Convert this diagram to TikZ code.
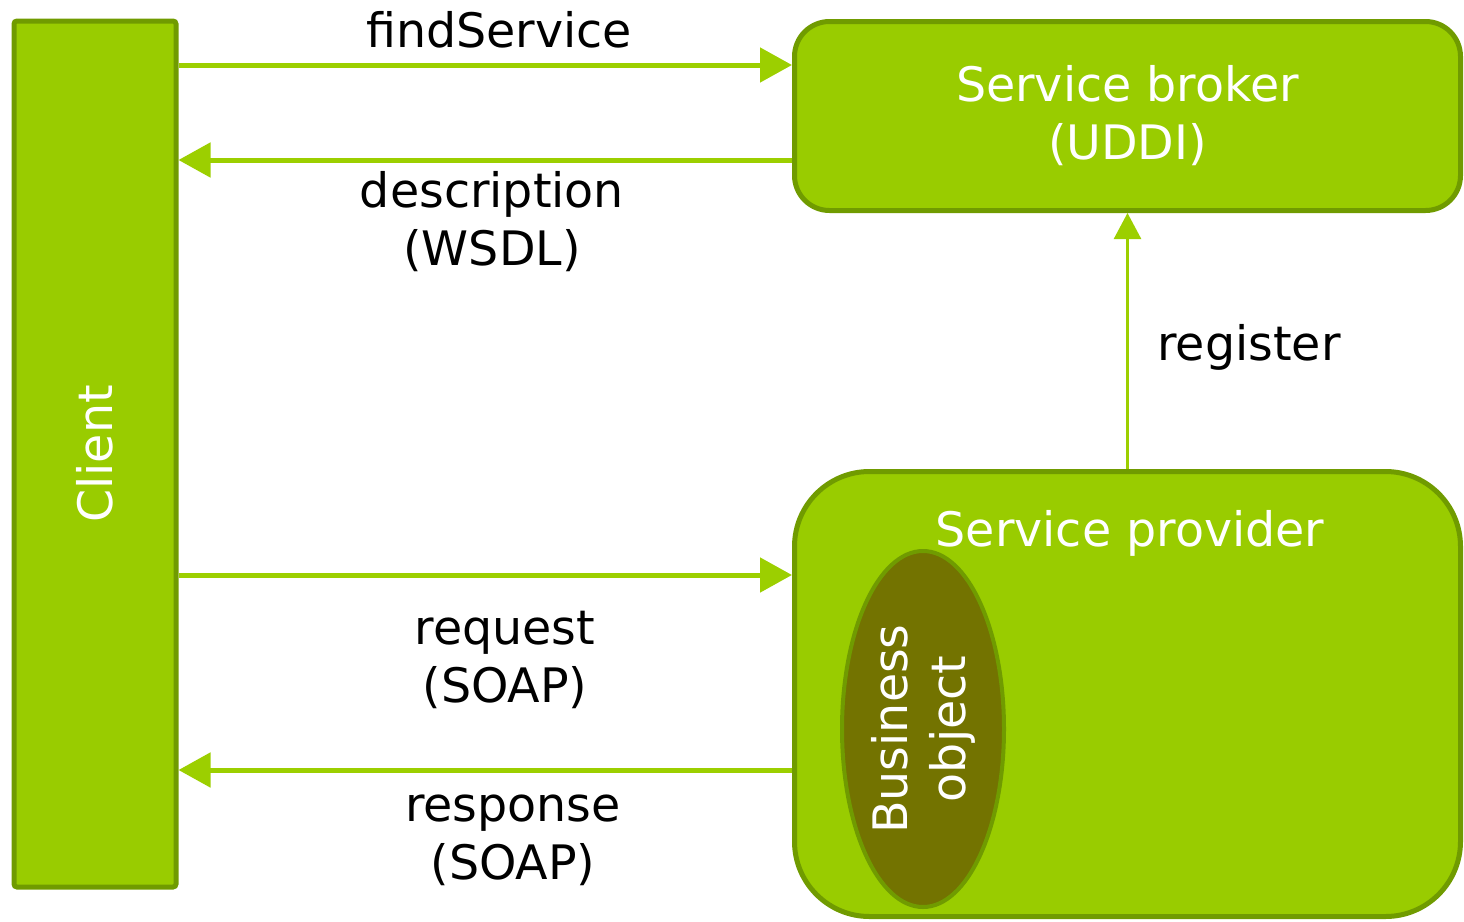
\documentclass[tikz,border=0pt]{standalone}
\usepackage{fontspec}
\setmainfont{DejaVu Sans}
\usetikzlibrary{arrows.meta,shapes.geometric}
\definecolor{leaf}{HTML}{99CC00}
\definecolor{leafdark}{HTML}{709B00}
\definecolor{olive}{HTML}{737300}
\definecolor{arrowgreen}{HTML}{9CCF00}
\tikzset{
  box/.style={draw=leafdark, fill=leaf, line width=5pt, text=white, align=center, inner sep=0pt},
  label/.style={text=black, align=center, inner sep=0pt},
  flow/.style={draw=arrowgreen, line width=5pt, -{Triangle[length=32pt,width=34pt]}},
  thinflow/.style={draw=arrowgreen, line width=2.5pt, -{Triangle[length=26pt,width=27pt]}},
}
\begin{document}
\begin{tikzpicture}[x=1pt,y=-1pt,font=\fontsize{47.5}{58}\selectfont]
\useasboundingbox (0,0) rectangle (1464,921);

% participants (the client bar is rotated, so its right side is client.south)
\node[box, rotate=90, rounded corners=3pt, minimum width=866pt, minimum height=162pt]
  (client) at (95,454) {Client};
\node[box, rounded corners=35pt, minimum width=666pt, minimum height=189pt]
  (broker) at (1127.5,116) {Service broker\\(UDDI)};
\node[box, rounded corners=75pt, minimum width=666pt, minimum height=445pt]
  (provider) at (1127.5,694) {};
\node[text=white, inner sep=0pt] (ptitle) at (1130,533) {Service provider};
\node[draw=leafdark, fill=olive, line width=4pt, ellipse, rotate=90, inner sep=0pt,
  text=white, align=center, minimum width=356pt, minimum height=162pt]
  (bo) at (923,729) {Business\\object};

% attachment points of the messages on the service side
\coordinate (bFind) at ([yshift=51pt]broker.west);
\coordinate (bDesc) at ([yshift=-44pt]broker.west);
\coordinate (pReq)  at ([yshift=119pt]provider.west);
\coordinate (pResp) at ([yshift=-76pt]provider.west);

% messages
\draw[flow] (client.south |- bFind) -- (bFind);
\draw[flow] (bDesc) -- (client.south |- bDesc);
\draw[flow] (client.south |- pReq) -- (pReq);
\draw[flow] (pResp) -- (client.south |- pResp);
\draw[thinflow] (provider.north) -- (provider.north |- broker.south);

% message labels
\node[label] (lfind) at (499,30) {findService};
\node[label] (ldesc) at (492,222) {description\\(WSDL)};
\node[label] (lreg) at (1249,347) {register};
\node[label] (lreq) at (505,660) {request\\(SOAP)};
\node[label] (lresp) at (513,840) {response\\(SOAP)};
\end{tikzpicture}
\end{document}
